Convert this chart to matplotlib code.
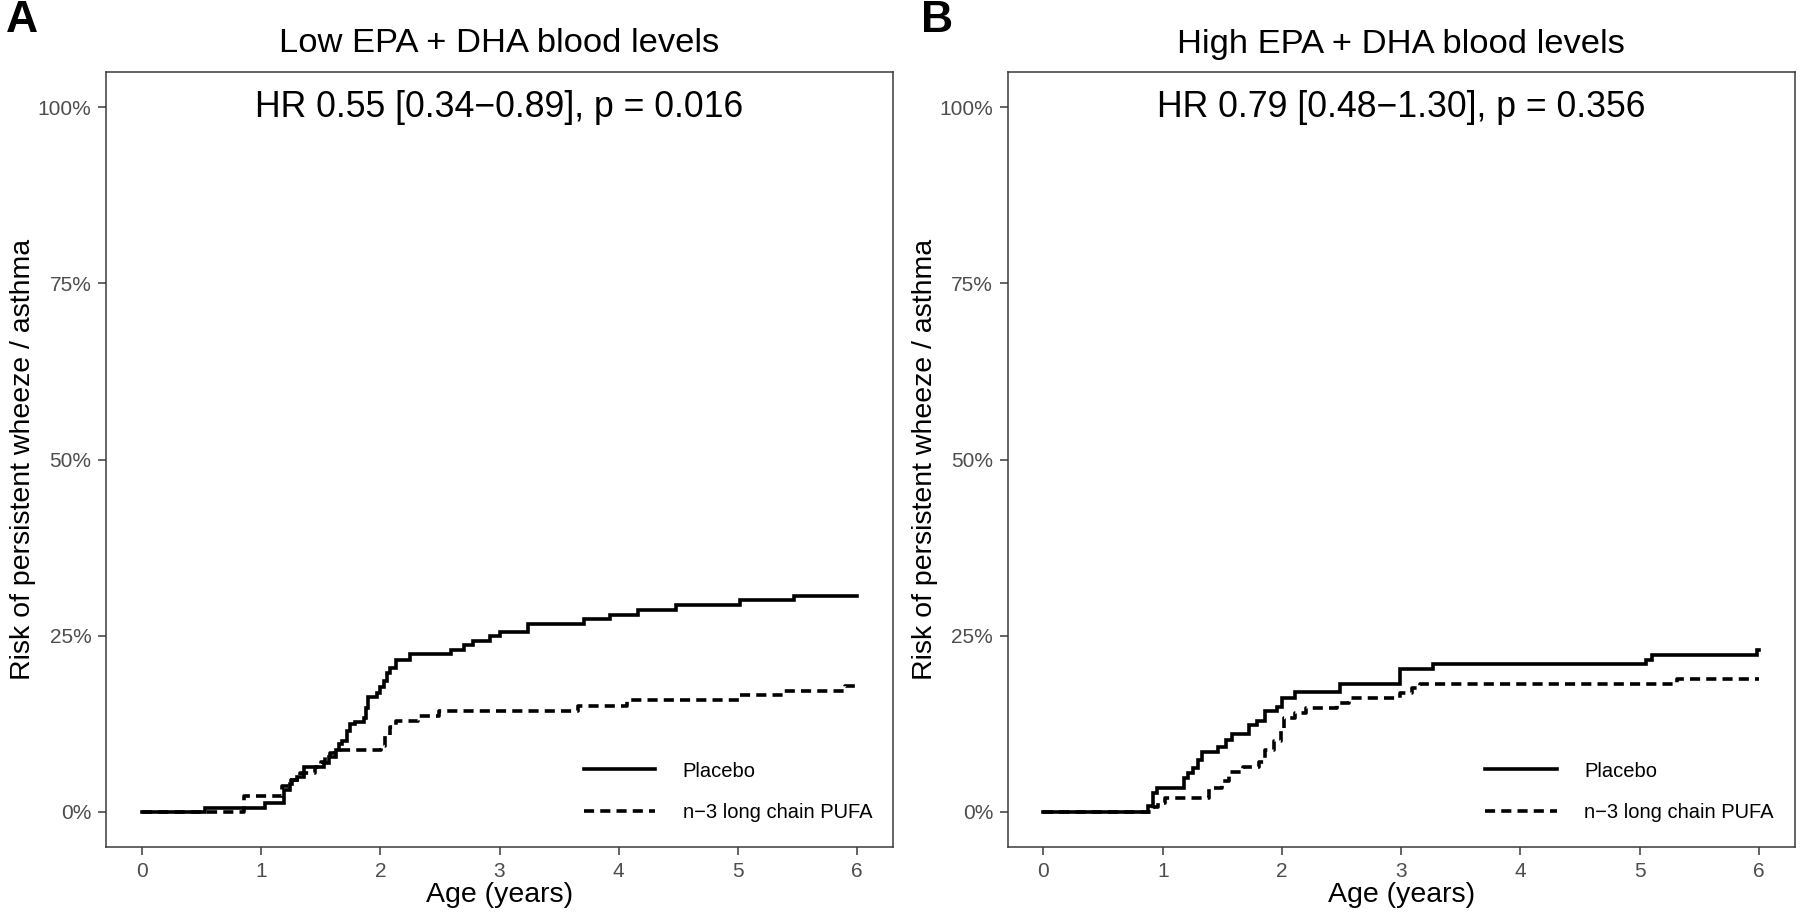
import matplotlib
matplotlib.use("Agg")
import matplotlib.pyplot as plt

plt.rcParams['font.family'] = ['Liberation Sans', 'DejaVu Sans']

# ---------------- data ----------------
panel_titles = ["Low EPA + DHA blood levels", "High EPA + DHA blood levels"]
panel_letters = ["A", "B"]
hr_texts = ["HR 0.55 [0.34\u22120.89], p = 0.016", "HR 0.79 [0.48\u22121.30], p = 0.356"]
series_labels = ["Placebo", "n\u22123 long chain PUFA"]

# Panel A (low levels) - cumulative risk (%) step functions
a_placebo_t = [0.0, 0.53, 1.03, 1.19, 1.24, 1.26, 1.30, 1.36, 1.53, 1.57, 1.63, 1.65, 1.68,
               1.72, 1.75, 1.79, 1.86, 1.88, 1.90, 1.97, 2.00, 2.03, 2.06, 2.08, 2.13,
               2.25, 2.59, 2.70, 2.78, 2.92, 3.00, 3.24, 3.71, 3.93, 4.16, 4.48, 5.02,
               5.47, 6.0]
a_placebo_y = [0.0, 0.6, 1.3, 3.1, 4.0, 4.5, 4.9, 6.4, 6.9, 7.8, 8.8, 9.6, 10.0,
               11.4, 12.4, 12.8, 13.3, 14.7, 16.3, 16.9, 17.7, 18.6, 19.7, 20.4, 21.6,
               22.4, 23.0, 23.7, 24.3, 24.9, 25.5, 26.7, 27.3, 28.0, 28.6, 29.3, 30.0,
               30.6, 30.6]
a_pufa_t = [0.0, 0.86, 1.18, 1.25, 1.33, 1.45, 1.50, 1.54, 1.58, 1.62, 2.01, 2.04, 2.08,
            2.13, 2.32, 2.49, 3.66, 4.07, 5.02, 5.38, 5.90, 6.0]
a_pufa_y = [0.0, 2.2, 3.6, 4.5, 5.5, 6.4, 7.1, 7.8, 8.3, 8.7, 9.4, 10.7, 12.1,
            12.9, 13.6, 14.3, 15.0, 15.9, 16.6, 17.2, 17.9, 17.9]

# Panel B (high levels)
b_placebo_t = [0.0, 0.875, 0.92, 0.95, 1.18, 1.21, 1.25, 1.30, 1.33, 1.46, 1.53, 1.58,
               1.72, 1.79, 1.86, 1.96, 2.00, 2.11, 2.49, 2.99, 3.27, 5.05, 5.10, 5.98, 6.0]
b_placebo_y = [0.0, 0.75, 2.6, 3.4, 4.8, 5.5, 6.2, 7.4, 8.5, 9.2, 10.2, 11.0,
               12.3, 12.9, 14.3, 14.9, 16.1, 17.0, 18.2, 20.2, 21.0, 21.6, 22.3, 23.0, 23.0]
b_pufa_t = [0.0, 0.92, 0.96, 1.02, 1.39, 1.50, 1.56, 1.67, 1.81, 1.86, 1.93, 1.99, 2.02,
            2.11, 2.20, 2.46, 2.56, 2.99, 3.09, 3.16, 5.31, 6.0]
b_pufa_y = [0.0, 0.7, 1.2, 1.9, 3.4, 4.3, 5.7, 6.4, 7.1, 8.8, 10.0, 11.6, 13.3,
            14.0, 14.7, 15.4, 16.1, 16.8, 17.6, 18.2, 18.9, 18.9]

x_ticks = [0, 1, 2, 3, 4, 5, 6]
y_ticks = [0, 25, 50, 75, 100]
y_tick_labels = ["0%", "25%", "50%", "75%", "100%"]
x_label = "Age (years)"
y_label = "Risk of persistent wheeze / asthma"

panels = [
    (a_placebo_t, a_placebo_y, a_pufa_t, a_pufa_y),
    (b_placebo_t, b_placebo_y, b_pufa_t, b_pufa_y),
]

# ---------------- figure ----------------
W, H = 1800, 918
fig = plt.figure(figsize=(W / 100, H / 100), dpi=100)
fig.patch.set_facecolor("white")

ax_w = 787 / W
ax_b = (H - 847) / H
ax_h = (847 - 72) / H
lefts = [106 / W, 1007.7 / W]
letter_x = [22 / W, 937 / W]

border_col = "#3a3a3a"
tick_col = "#4D4D4D"

for i, (pt, py, ft, fy) in enumerate(panels):
    ax = fig.add_axes([lefts[i], ax_b, ax_w, ax_h])
    ax.set_facecolor("white")
    l1, = ax.step(pt, py, where="post", color="black", lw=2.6,
                  solid_joinstyle="miter", label=series_labels[0])
    l2, = ax.step(ft, fy, where="post", color="black", lw=2.6,
                  linestyle=(0, (2.8, 1.7)), dash_capstyle="butt",
                  label=series_labels[1])
    ax.set_xlim(-0.3, 6.3)
    ax.set_ylim(-5, 105)
    ax.set_xticks(x_ticks)
    ax.set_xticklabels([str(v) for v in x_ticks])
    ax.set_yticks(y_ticks)
    ax.set_yticklabels(y_tick_labels)
    ax.tick_params(axis="both", length=6, width=1.1, color=border_col,
                   labelcolor=tick_col, labelsize=15, pad=4.5)
    for sp in ax.spines.values():
        sp.set_color(border_col)
        sp.set_linewidth(1.1)
    ax.grid(False)

    ax.set_xlabel(x_label, fontsize=20.5, color="black")
    ax.xaxis.set_label_coords(0.5, (847 - 895) / 775)
    ax.xaxis.label.set_va("center")
    ax.set_ylabel(y_label, fontsize=20.5, color="black")
    ax.yaxis.set_label_coords(-0.105, 0.5)
    ax.yaxis.label.set_va("center")

    ax.text(0.5, (847 - 44) / 775, panel_titles[i], transform=ax.transAxes,
            ha="center", va="center", fontsize=24.8, color="black")
    ax.text(3, 100, hr_texts[i], ha="center", va="center", fontsize=25.7,
            color="black")

    ax.legend(handles=[l1, l2], loc="center left",
              bbox_to_anchor=(0.607, 0.0715), frameon=False,
              fontsize=14.5, handlelength=3.55, handletextpad=1.37,
              labelspacing=1.1, borderpad=0, borderaxespad=0)

    fig.text(letter_x[i], 1 - 21 / H, panel_letters[i], ha="center", va="center",
             fontsize=32, fontweight="bold", color="black")

fig.savefig("out.png", dpi=100, facecolor="white")
